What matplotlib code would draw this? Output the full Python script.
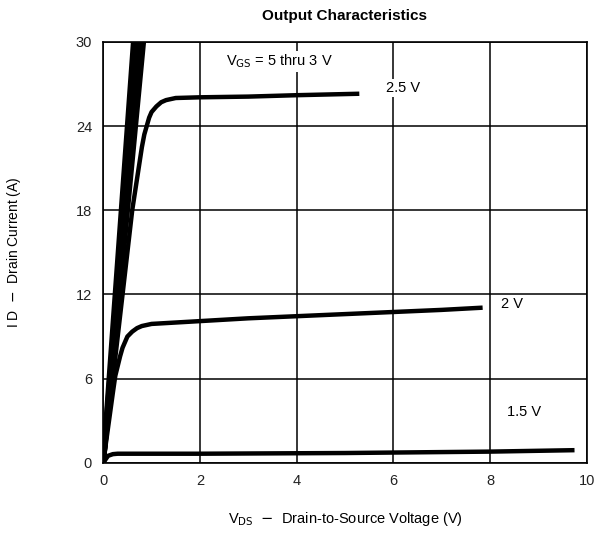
import numpy as np
import matplotlib
matplotlib.use('Agg')
import matplotlib.pyplot as plt

plt.rcParams['font.family'] = ['Liberation Sans', 'DejaVu Sans']

# VGS = 5, 4, 3 V  (steep lines, practically straight)
steep_vds_top = [0.63, 0.70, 0.77, 0.83]
steep_id_top = 30

# VGS = 2.5 V
vds_25 = [0, 0.3, 0.6, 0.8, 0.85, 0.9, 0.95, 1.0, 1.1, 1.2, 1.3, 1.5, 2.0, 3.0, 4.0, 5.25]
id_25 = [0, 9.0, 18.0, 22.5, 23.4, 24.0, 24.6, 25.0, 25.4, 25.7, 25.85, 26.0, 26.05, 26.1, 26.2, 26.3]

# VGS = 2 V
vds_2 = [0, 0.2, 0.25, 0.35, 0.4, 0.5, 0.6, 0.7, 0.8, 1.0, 2.0, 3.0, 4.0, 5.0, 6.0, 7.0, 7.8]
id_2 = [0, 5.0, 6.2, 7.6, 8.2, 9.0, 9.35, 9.6, 9.75, 9.9, 10.1, 10.3, 10.45, 10.6, 10.75, 10.9, 11.05]

# VGS = 1.5 V
vds_15 = [0, 0.1, 0.2, 0.3, 2.0, 5.0, 8.0, 9.7]
id_15 = [0, 0.5, 0.62, 0.65, 0.65, 0.7, 0.8, 0.9]

xticks = [0, 2, 4, 6, 8, 10]
yticks = [0, 6, 12, 18, 24, 30]

fig = plt.figure(figsize=(6, 5.51), dpi=100)
ax = fig.add_axes([0.172, 0.160, 0.806, 0.764])

lw = 3.2
for x_top in steep_vds_top:
    ax.plot([0, x_top], [0, steep_id_top], color='black', lw=4, solid_capstyle='butt')
ax.plot(vds_25, id_25, color='black', lw=lw, solid_joinstyle='round')
ax.plot(vds_2, id_2, color='black', lw=lw, solid_joinstyle='round')
ax.plot(vds_15, id_15, color='black', lw=lw, solid_joinstyle='round')

ax.set_xlim(0, 10)
ax.set_ylim(0, 30)
ax.set_xticks(xticks)
ax.set_yticks(yticks)
ax.grid(True, color='black', lw=1.1)
ax.set_axisbelow(True)
ax.tick_params(length=0, pad=8, labelsize=10.5, colors='#222222')
for s in ax.spines.values():
    s.set_linewidth(1.2)

box = dict(facecolor='white', edgecolor='none', pad=1.5)
ax.text(3.65, 28.6, r'V$_{\rm GS}$ = 5 thru 3 V', ha='center', va='center', fontsize=10.5, bbox=box)
ax.text(6.2, 26.7, '2.5 V', ha='center', va='center', fontsize=10.5, bbox=box)
ax.text(8.45, 11.3, '2 V', ha='center', va='center', fontsize=10.5, bbox=box)
ax.text(8.7, 3.6, '1.5 V', ha='center', va='center', fontsize=10.5, bbox=box)

ax.set_title('Output Characteristics', fontsize=11, fontweight='bold', pad=16)
ax.set_xlabel(r'V$_{\rm DS}$  $-$  Drain-to-Source Voltage (V)', fontsize=10.5, labelpad=16)
ax.set_ylabel(r'I D  $-$  Drain Current (A)', fontsize=10, labelpad=38)

fig.savefig('out.png', dpi=100)
